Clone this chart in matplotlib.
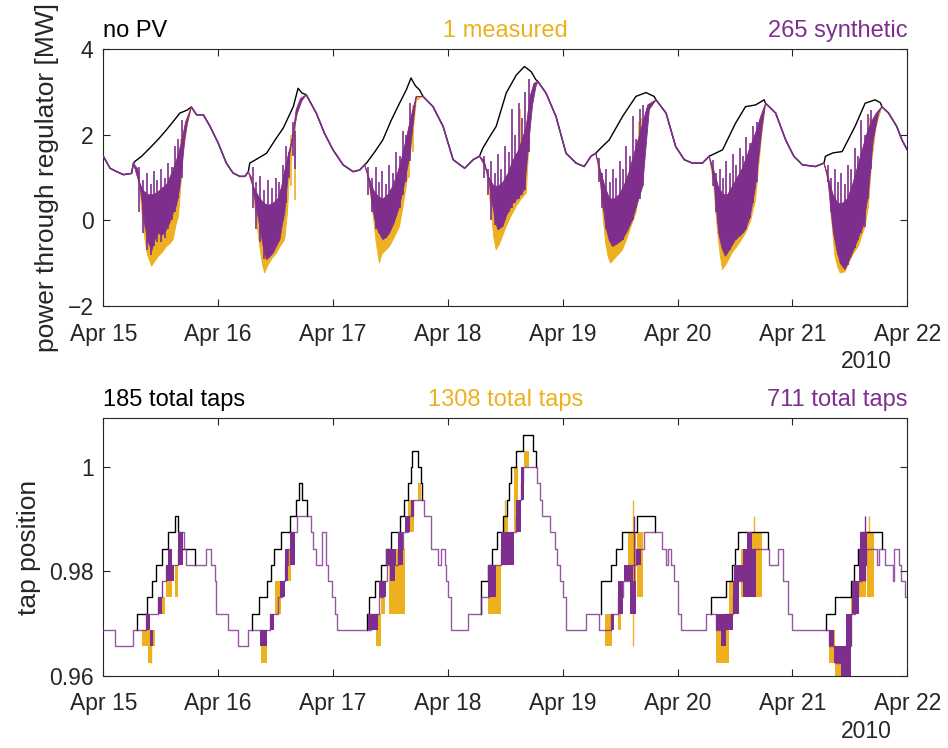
import numpy as np
import matplotlib
matplotlib.use("Agg")
import matplotlib.pyplot as plt

plt.rcParams['font.family'] = ['Liberation Sans', 'DejaVu Sans']

# colours
C_NOPV = '#000000'
C_MEAS = '#EDB120'
C_SYN = '#7E2F8E'

# ---------------- power through the regulator (MW), hours after Apr 15 00:00 ----------------
load_h = [0, 1.4, 2.8, 4.2, 5.9, 6.3, 6.6, 8, 9.7, 11.5, 13.2, 14.5, 16, 17.5, 18.4,
          19.5, 20.9, 22.3, 24, 25.7, 27.1, 28.5, 29.6, 30.3, 30.6, 32.3, 34.1, 36, 37.6,
          39.7, 40.7, 41.5, 42.4, 44.5, 46.2, 48, 50.1, 52.2, 53.6, 54.6, 55, 56.7, 58.4,
          60.2, 61.9, 63.3, 64.3, 65.2, 66.1, 66.8, 68.9, 71, 73.1, 75.5, 77.3, 78.6, 79.3,
          80.7, 82.1, 84.2, 86.3, 88, 89.4, 90.4, 90.8, 92.5, 94.6, 96.7, 98.8, 100.5, 101.9,
          102.9, 104.2, 105.7, 108.5, 111.3, 113.4, 115.1, 115.5, 117.6, 119.6, 121.4, 123.1,
          125.2, 126.6, 129.4, 132.1, 134.2, 136.3, 138.1, 138.4, 140.5, 142.6, 144.3, 146.1,
          148.8, 150.6, 150.9, 152.5, 154.4, 157.1, 159.2, 161.3, 162.4, 162.7, 164.1, 165.8,
          166.9, 168]
load_mw = [1.50, 1.22, 1.14, 1.07, 1.10, 1.34, 1.38, 1.50, 1.69, 1.90, 2.12, 2.30, 2.51, 2.58, 2.65,
           2.47, 2.47, 2.20, 1.81, 1.34, 1.11, 1.03, 1.03, 1.14, 1.34, 1.45, 1.57, 1.90, 2.16,
           2.66, 3.09, 2.98, 2.94, 2.51, 2.04, 1.65, 1.30, 1.14, 1.18, 1.30, 1.34, 1.60, 1.88,
           2.35, 2.74, 3.05, 3.33, 3.15, 3.05, 2.90, 2.66, 2.20, 1.42, 1.22, 1.42, 1.50, 1.69,
           1.95, 2.20, 2.98, 3.40, 3.60, 3.48, 3.29, 3.25, 2.98, 2.43, 1.57, 1.34, 1.26, 1.50,
           1.57, 1.72, 1.88, 2.43, 2.90, 2.99, 2.90, 2.82, 2.51, 1.73, 1.42, 1.34,
           1.34, 1.50, 1.65, 2.27, 2.66, 2.70, 2.82, 2.74, 2.51, 1.88, 1.50, 1.30,
           1.26, 1.34, 1.50, 1.58, 1.61, 2.20, 2.74, 2.82, 2.75, 2.66, 2.51, 2.20,
           1.88, 1.65]

# daylight windows where PV pulls the net load down
pv_start = [6.3, 30.3, 54.6, 78.6, 102.9, 126.6, 150.6]
pv_end = [18.4, 42.4, 66.8, 90.8, 115.5, 138.4, 162.7]

# synthetic PV: top of the dense band of net load, per day
syn_hi_h = [[6.3, 7.3, 8.3, 9.3, 10.3, 11.3, 12.3, 13.3, 14.3, 15.3, 16.3, 17.2, 18.4],
            [30.3, 31.3, 32.5, 33.5, 34.5, 35.5, 36.5, 37.3, 38.0, 38.8, 39.7, 40.5, 41.5, 42.4],
            [54.6, 55.5, 56.5, 57.5, 58.5, 59.5, 60.5, 61.5, 62.5, 63.5, 64.5, 65.4, 66.8],
            [78.6, 79.6, 80.6, 81.6, 82.6, 83.6, 84.6, 85.6, 86.6, 87.6, 88.4, 89.2, 90.0, 90.8],
            [102.9, 103.8, 104.8, 105.8, 106.8, 107.8, 108.8, 109.8, 110.8, 111.8, 112.8, 113.8, 115.5],
            [126.6, 127.5, 128.5, 129.5, 130.5, 131.5, 132.5, 133.5, 134.5, 135.5, 136.5, 137.3, 138.4],
            [150.6, 151.5, 152.5, 153.5, 154.5, 155.5, 156.5, 157.5, 158.5, 159.5, 160.5, 161.5, 162.7]]
syn_hi_mw = [[1.34, 0.95, 0.70, 0.60, 0.60, 0.65, 0.75, 0.85, 1.10, 1.40, 1.80, 2.30, 2.65],
             [1.14, 0.80, 0.55, 0.40, 0.35, 0.40, 0.50, 0.80, 1.20, 1.60, 2.00, 2.50, 2.80, 2.94],
             [1.30, 1.00, 0.70, 0.55, 0.50, 0.60, 0.80, 1.10, 1.50, 2.00, 2.50, 2.90, 2.90],
             [1.50, 1.30, 1.00, 0.80, 0.80, 0.90, 1.10, 1.40, 1.60, 1.90, 2.20, 2.90, 3.20, 3.25],
             [1.57, 1.20, 0.80, 0.50, 0.50, 0.60, 0.80, 1.10, 1.50, 1.90, 2.30, 2.70, 2.82],
             [1.50, 1.20, 0.80, 0.60, 0.60, 0.80, 1.00, 1.20, 1.50, 1.80, 2.10, 2.40, 2.74],
             [1.34, 1.00, 0.60, 0.40, 0.40, 0.50, 0.80, 1.20, 1.60, 2.00, 2.30, 2.50, 2.66]]
syn_lo_h = [[6.3, 7.2, 7.7, 8.7, 9.4, 10.1, 10.8, 11.5, 12.3, 13.2, 13.9, 14.6, 15.3, 16.0, 16.5, 17.0, 17.6, 18.4],
            [30.3, 31.0, 31.7, 32.7, 33.4, 34.1, 34.8, 35.5, 36.2, 36.9, 37.4, 37.9, 38.5, 39.0, 39.6, 40.3, 41.2, 42.4],
            [54.6, 55.2, 55.7, 56.3, 57.0, 57.7, 58.4, 59.1, 59.8, 60.8, 61.9, 63.0, 64.0, 64.7, 65.4, 66.8],
            [78.6, 79.6, 80.5, 81.4, 82.0, 82.5, 83.5, 84.2, 84.9, 85.6, 86.3, 87.2, 88.0, 88.5, 89.1, 89.7, 90.4, 90.8],
            [102.9, 103.5, 104.0, 104.5, 105.0, 105.7, 106.4, 107.4, 108.5, 109.5, 110.6, 111.6, 112.7, 113.4, 114.1, 115.5],
            [126.6, 127.2, 127.6, 128.1, 128.6, 129.3, 130.0, 130.8, 132.1, 133.2, 134.2, 135.2, 136.3, 137.0, 137.7, 138.4],
            [150.6, 151.2, 151.6, 152.1, 152.6, 153.3, 154.0, 155.0, 156.0, 157.1, 158.0, 158.8, 159.9, 160.9, 162.0, 162.7]]
syn_lo_mw = [[1.34, 1.20, 0.79, -0.14, -0.50, -0.72, -0.45, -0.30, -0.35, -0.22, -0.05, 0.17, 0.35, 0.79, 1.30, 1.88, 2.30, 2.65],
             [1.14, 1.00, 0.48, -0.14, -0.60, -0.92, -0.85, -0.76, -0.60, -0.45, -0.10, 0.17, 0.90, 1.57, 2.00, 2.59, 2.85, 2.94],
             [1.30, 1.10, 0.79, 0.30, -0.14, -0.30, -0.45, -0.40, -0.30, -0.05, 0.33, 0.90, 1.50, 2.20, 2.90, 2.90],
             [1.50, 1.40, 1.00, 0.33, -0.05, -0.22, -0.14, 0.10, 0.25, 0.40, 0.48, 0.60, 0.72, 1.30, 2.04, 2.70, 3.13, 3.25],
             [1.57, 1.30, 0.79, 0.30, -0.14, -0.45, -0.61, -0.55, -0.45, -0.25, 0.02, 0.40, 0.79, 1.70, 2.59, 2.82],
             [1.50, 1.20, 0.95, 0.30, -0.30, -0.65, -0.84, -0.70, -0.45, -0.35, -0.22, 0.10, 0.79, 1.50, 2.20, 2.74],
             [1.34, 1.10, 0.79, 0.20, -0.30, -0.70, -1.00, -1.15, -0.90, -0.61, -0.35, -0.14, 0.64, 1.88, 2.50, 2.66]]

# short cloud gaps: synthetic net-load swings above the dense band
syn_spike_h = [7.4, 8.3, 9.1, 9.9, 10.6, 11.3, 12.0, 12.8, 13.6, 14.3, 15.0, 15.7, 16.4,
               31.2, 32.0, 32.8, 33.6, 34.4, 35.2, 36.0, 36.8, 37.5, 38.2, 38.9, 39.6, 40.0,
               55.4, 56.1, 56.9, 57.6, 58.3, 59.0, 59.8, 60.5, 61.2, 61.9, 62.6, 63.3, 64.0,
               79.5, 80.3, 81.0, 81.8, 82.5, 83.2, 84.0, 84.7, 85.4, 86.1, 86.8, 87.5, 88.2, 88.9,
               103.6, 104.3, 105.0, 105.8, 106.5, 107.2, 107.9, 108.6, 109.3, 110.0, 110.7, 111.4, 112.1, 112.8,
               127.4, 128.1, 128.8, 129.5, 130.2, 130.9, 131.6, 132.3, 133.0, 133.7, 134.4, 135.1, 135.8, 136.5,
               151.4, 152.1, 152.8, 153.5, 154.2, 154.9, 155.6, 156.3, 157.0, 157.7, 158.4, 159.1, 159.8, 160.5]
syn_spike_lo = [0.2, -0.3, -0.7, -0.8, -0.6, -0.5, -0.5, -0.4, -0.2, 0.0, 0.2, 0.5, 1.0,
                0.3, -0.2, -0.5, -0.9, -0.8, -0.7, -0.6, -0.4, 0.0, 0.4, 1.0, 1.5, 1.2,
                0.6, 0.2, -0.2, -0.3, -0.4, -0.4, -0.3, -0.1, 0.1, 0.3, 0.6, 0.9, 1.4,
                1.0, 0.6, 0.0, -0.1, -0.2, -0.1, 0.0, 0.2, 0.3, 0.4, 0.5, 0.6, 0.7, 1.6,
                0.9, 0.3, -0.2, -0.5, -0.6, -0.55, -0.5, -0.45, -0.3, -0.1, 0.0, 0.3, 0.5, 0.8,
                0.8, 0.2, -0.4, -0.7, -0.8, -0.7, -0.55, -0.45, -0.35, -0.3, -0.2, 0.05, 0.4, 0.9,
                0.9, 0.2, -0.4, -0.8, -1.0, -1.1, -1.05, -0.85, -0.65, -0.45, -0.3, -0.15, 0.5, 1.2]
syn_spike_hi = [1.25, 0.95, 1.10, 0.85, 1.15, 0.95, 1.20, 1.00, 1.35, 1.25, 1.75, 1.90, 2.35,
                1.26, 0.90, 1.05, 0.70, 0.95, 0.75, 1.00, 0.90, 1.30, 1.75, 1.60, 2.30, 2.10,
                1.25, 1.00, 1.25, 0.90, 1.15, 0.85, 1.30, 1.10, 1.60, 1.50, 2.10, 2.00, 2.75,
                1.50, 1.20, 1.40, 1.10, 1.55, 1.20, 1.75, 1.60, 2.60, 2.00, 2.75, 2.40, 3.00, 3.30,
                1.45, 1.10, 1.20, 0.90, 1.20, 1.00, 1.40, 1.20, 1.75, 1.50, 2.45, 1.90, 2.60, 2.70,
                1.42, 1.10, 1.20, 1.00, 1.40, 1.10, 1.55, 1.30, 1.70, 1.50, 1.95, 1.80, 2.20, 2.30,
                1.30, 1.00, 1.20, 0.90, 1.10, 0.85, 1.30, 1.20, 1.70, 1.50, 2.35, 2.00, 2.50, 2.59]

# measured PV: lower envelope of the net load, per day
meas_lo_h = [[6.3, 7.5, 8.4, 9.2, 10.1, 10.8, 11.5, 12.3, 13.2, 13.9, 14.6, 15.2, 15.7, 16.2, 16.7, 17.5, 18.4],
             [30.3, 31.2, 32.0, 32.7, 33.2, 33.7, 34.4, 35.2, 36.2, 37.0, 37.9, 38.5, 39.0, 39.7, 40.3, 41.2, 42.4],
             [54.6, 55.5, 56.3, 57.0, 57.7, 58.2, 59.0, 59.8, 60.8, 61.9, 62.6, 63.3, 64.0, 64.7, 65.4, 66.8],
             [78.6, 80.0, 81.0, 81.6, 82.1, 82.8, 83.5, 84.2, 85.2, 86.3, 87.3, 88.4, 88.8, 89.4, 90.0, 90.8],
             [102.9, 103.8, 104.5, 105.0, 105.5, 106.0, 106.8, 107.6, 108.5, 109.5, 110.4, 111.3, 112.0, 112.7, 113.4, 114.1, 115.5],
             [126.6, 127.5, 128.3, 128.9, 129.4, 130.3, 131.4, 132.8, 134.2, 135.3, 136.3, 136.9, 137.6, 138.4],
             [150.6, 151.5, 152.2, 152.9, 153.5, 154.0, 155.0, 156.4, 157.8, 159.2, 159.9, 160.6, 161.5, 162.7]]
meas_lo_mw = [[1.34, 0.90, -0.22, -0.80, -1.07, -0.95, -0.84, -0.75, -0.61, -0.55, -0.45, -0.10, 0.09, 0.80, 1.57, 2.20, 2.65],
              [1.14, 0.80, 0.00, -0.61, -1.00, -1.23, -1.05, -0.90, -0.76, -0.60, -0.45, 0.20, 1.30, 1.90, 2.40, 2.80, 2.94],
              [1.30, 0.90, 0.20, -0.50, -1.00, -0.80, -0.70, -0.61, -0.40, -0.14, 0.30, 0.79, 1.40, 2.00, 2.80, 2.90],
              [1.50, 1.20, 0.30, -0.40, -0.69, -0.55, -0.35, -0.14, 0.10, 0.33, 0.50, 0.64, 1.50, 2.50, 3.00, 3.25],
              [1.57, 1.00, 0.00, -0.55, -0.85, -1.00, -0.90, -0.80, -0.69, -0.40, -0.10, 0.17, 0.60, 1.10, 2.00, 2.60, 2.82],
              [1.50, 0.90, -0.20, -0.80, -1.15, -1.00, -0.76, -0.55, -0.30, 0.00, 0.48, 1.20, 2.00, 2.74],
              [1.34, 0.90, 0.00, -0.84, -1.10, -1.23, -1.20, -0.84, -0.60, -0.14, 0.33, 1.40, 2.20, 2.66]]

# measured swings that stick out of the synthetic band
meas_spike_h = [40.0, 16.3, 88.9, 39.3, 63.8, 87.0, 111.9, 112.3, 136.6, 160.3, 15.5, 64.8]
meas_spike_lo = [0.48, 1.00, 1.60, 0.80, 1.00, 0.70, 0.60, 1.00, 1.00, 1.00, 0.40, 1.60]
meas_spike_hi = [2.30, 1.90, 2.60, 2.00, 2.20, 2.60, 2.30, 2.40, 2.10, 2.40, 1.50, 2.70]

# ---------------- regulator tap position ----------------
TAP_STEP = 0.003125  # per-unit change per tap

syn_tap_h = [0, 2.4, 6.1, 9.0, 11.5, 12.2, 13.2, 15.7, 16.3, 16.8, 17.2, 21.4, 22.4, 23.3, 23.6, 26.1, 28.2, 30.3,
             34.8, 36.5, 37.3, 37.9, 38.6, 39.3, 40.5, 43.3, 43.8, 44.5, 45.7, 46.6, 47.0, 47.7, 48.5, 48.9,
             56.0, 57.7, 58.5, 59.3, 61.5, 62.6, 63.7, 64.8, 67.1, 68.5, 70.0, 70.5, 71.3, 71.6, 72.0, 72.7, 76.3,
             79.0, 80.5, 81.5, 83.2, 85.0, 86.2, 86.8, 87.3, 87.8, 90.6, 91.2, 91.7, 93.3, 94.3, 94.9, 95.4, 96.0, 96.7, 100.9,
             103.5, 106.0, 107.5, 108.5, 110.0, 111.3, 113.0, 116.7, 117.5, 118.0, 118.7, 119.3, 120.0, 120.7, 125.9,
             128.0, 130.0, 131.5, 132.3, 133.5, 135.0, 139.1, 140.9, 142.1, 143.0, 144.0,
             151.6, 153.0, 155.0, 156.2, 157.0, 157.8, 158.5, 159.3, 161.7, 162.1, 163.3, 165.0, 165.3, 166.3, 166.8, 167.5, 168]
syn_tap_n = [-10, -11, -10, -9, -8, -7, -6, -5, -4, -5, -6, -5, -6, -7, -9, -10, -11, -10,
             -9, -8, -7, -6, -5, -4, -3, -4, -5, -6, -4, -6, -7, -8, -9, -10,
             -9, -8, -7, -6, -5, -4, -3, -2, -3, -5, -6, -5, -6, -7, -8, -10, -9,
             -8, -7, -6, -5, -4, -3, -2, -1, 0, -1, -2, -3, -4, -5, -6, -7, -8, -10, -9,
             -10, -9, -8, -7, -6, -5, -4, -5, -6, -5, -6, -7, -9, -10, -9,
             -10, -9, -8, -7, -6, -5, -6, -5, -7, -9, -10,
             -11, -12, -11, -9, -8, -7, -6, -5, -6, -5, -6, -7, -5, -6, -7, -8, -8]

# without PV the regulator climbs higher during the day
nopv_tap_h = [[7.0, 7.0, 9.05, 10.1, 11.1, 12.2, 13.6, 15.0, 15.5, 16.0, 19.1],
              [31.0, 31.0, 32.5, 34.1, 35.0, 35.6, 37.2, 39.0, 40.3, 40.8, 41.5, 42.6],
              [55.0, 55.0, 55.5, 56.8, 58.1, 59.1, 60.2, 61.9, 62.9, 63.7, 64.3, 64.5, 65.7, 66.3, 66.6],
              [79.0, 79.0, 80.3, 81.2, 82.3, 83.5, 84.3, 84.8, 85.2, 86.2, 87.6, 89.7, 90.4],
              [104.0, 104.0, 106.0, 107.1, 108.3, 111.5, 115.3],
              [126.9, 126.9, 130.2, 131.3, 132.0, 132.6, 138.8],
              [151.0, 151.0, 153.0, 156.2, 156.9, 157.8, 158.3, 162.8]]
nopv_tap_n = [[-10, -9, -8, -7, -6, -5, -4, -3, -4, -5, -6],
              [-10, -9, -8, -7, -6, -5, -4, -3, -2, -1, -2, -3],
              [-10, -9, -8, -7, -6, -5, -4, -3, -2, -1, 0, 1, 0, -1, -2],
              [-9, -7, -6, -5, -4, -3, -2, -1, 0, 1, 2, 1, 0],
              [-9, -7, -6, -5, -4, -3, -4],
              [-9, -8, -7, -6, -5, -4, -5],
              [-10, -9, -8, -7, -6, -5, -4, -5]]

# periods of rapid back-and-forth tapping: start, end, lowest and highest tap
syn_blk_h0 = [9.0, 9.7, 11.5, 12.2, 13.2, 13.6, 15.7,
              32.7, 34.8, 36.9, 37.9, 39.0,
              55.3, 57.7, 59.1, 60.0, 61.6, 63.0, 64.4,
              80.3, 83.1, 86.3, 87.3,
              106.0, 107.5, 108.8, 110.0, 111.3,
              128.0, 129.0, 130.1, 131.5, 131.8, 133.6, 134.5,
              151.6, 152.7, 154.1, 155.1, 156.5, 157.9, 158.2]
syn_blk_h1 = [9.7, 10.4, 12.2, 12.5, 14.8, 14.3, 16.7,
              34.1, 35.6, 37.9, 38.6, 40.0,
              57.4, 59.1, 61.2, 61.0, 62.6, 64.0, 65.0,
              82.1, 85.9, 87.3, 88.0,
              106.8, 108.5, 110.6, 111.3, 112.3,
              130.1, 130.1, 131.5, 132.9, 133.6, 136.3, 135.5,
              152.7, 154.1, 156.2, 156.5, 157.9, 159.3, 159.6]
syn_blk_lo = [-10, -11, -9, -8, -7, -6, -6,
              -11, -10, -8, -7, -6,
              -10, -8, -6, -7, -6, -4, -3,
              -8, -6, -4, -2,
              -10, -9, -7, -9, -6,
              -10, -11, -10, -9, -7, -8, -5,
              -11, -12, -13, -11, -9, -7, -6]
syn_blk_hi = [-9, -10, -8, -7, -6, -5, -4,
              -10, -9, -7, -5, -4,
              -9, -7, -5, -6, -4, -3, -2,
              -6, -4, -2, 0,
              -9, -7, -6, -7, -5,
              -9, -10, -9, -7, -6, -5, -4,
              -10, -11, -11, -9, -7, -5, -4]

meas_blk_h0 = [8.0, 9.4, 12.2, 13.2, 15.0, 16.0,
               33.0, 35.8, 38.3,
               56.9, 58.1, 59.8, 63.7, 65.7,
               80.3, 83.5, 85.9, 88.0,
               104.9, 107.5, 109.6, 111.6,
               128.0, 130.8, 133.3, 135.6,
               151.6, 153.0, 155.1, 156.2, 157.9, 159.6]
meas_blk_h1 = [10.8, 10.1, 12.9, 14.3, 15.7, 16.4,
               34.1, 37.2, 39.3,
               58.1, 58.8, 63.0, 65.0, 66.4,
               83.1, 84.5, 86.6, 89.0,
               106.4, 108.2, 111.3, 112.7,
               130.8, 132.9, 135.0, 137.7,
               153.0, 154.4, 156.2, 157.2, 159.3, 161.0]
meas_blk_lo = [-11, -12, -9, -8, -8, -6,
               -12, -9, -7,
               -11, -9, -9, -4, -2,
               -9, -6, -4, 0,
               -11, -10, -7, -8,
               -12, -9, -8, -8,
               -12, -13, -13, -9, -8, -8]
meas_blk_hi = [-10, -11, -8, -6, -6, -4,
               -10, -7, -5,
               -9, -7, -5, -2, -1,
               -6, -3, 0, 1,
               -9, -7, -4, -4,
               -9, -7, -5, -4,
               -10, -11, -10, -7, -5, -4]

# single tap excursions
meas_tap_spike_h = [10.0, 57.5, 110.7, 136.0, 160.0, 84.0]
meas_tap_spike_lo = [-12, -11, -11, -8, -8, -6]
meas_tap_spike_hi = [-10, -9, -2, -3, -3, -2]
syn_tap_spike_h = [159.2, 110.9]
syn_tap_spike_lo = [-7, -7]
syn_tap_spike_hi = [-3, -3]

title_top = ['no PV', '1 measured', '265 synthetic']
title_bot = ['185 total taps', '1308 total taps', '711 total taps']
day_ticks = [0, 24, 48, 72, 96, 120, 144, 168]
day_labels = ['Apr 15', 'Apr 16', 'Apr 17', 'Apr 18', 'Apr 19', 'Apr 20', 'Apr 21', 'Apr 22']


def tap_value(n):
    return 1 + TAP_STEP * np.asarray(n, dtype=float)


fig = plt.figure(figsize=(9.48, 7.48), dpi=100)
ax1 = fig.add_axes([0.109, 0.591, 0.848, 0.343])
ax2 = fig.add_axes([0.109, 0.0967, 0.848, 0.344])

# --- top panel ---
lh = np.array(load_h)
lmw = np.array(load_mw)
ax1.plot(lh, lmw, color=C_NOPV, lw=1.0, zorder=1)

for i in range(len(pv_start)):
    px = meas_lo_h[i] + syn_hi_h[i][::-1]
    py = meas_lo_mw[i] + syn_hi_mw[i][::-1]
    ax1.fill(px, py, color=C_MEAS, lw=0.6, zorder=2)
    px = syn_lo_h[i] + syn_hi_h[i][::-1]
    py = syn_lo_mw[i] + syn_hi_mw[i][::-1]
    ax1.fill(px, py, color=C_SYN, lw=0.6, zorder=3)
ax1.vlines(meas_spike_h, meas_spike_lo, meas_spike_hi, color=C_MEAS, lw=1.2, zorder=2)
ax1.vlines(syn_spike_h, syn_spike_lo, syn_spike_hi, color=C_SYN, lw=1.2, zorder=3)

night = np.ones(len(lh), dtype=bool)
for s, e in zip(pv_start, pv_end):
    night &= ~((lh > s) & (lh < e))
ax1.plot(lh, np.where(night, lmw, np.nan), color=C_SYN, lw=1.1, zorder=4)

ax1.set_ylim(-2, 4)
ax1.set_yticks([-2, 0, 2, 4])
ax1.set_ylabel('power through regulator [MW]', fontsize=19, color='#262626', labelpad=6)

# --- bottom panel ---
ax2.bar(meas_blk_h0, tap_value(meas_blk_hi) - tap_value(meas_blk_lo),
        width=np.array(meas_blk_h1) - np.array(meas_blk_h0), bottom=tap_value(meas_blk_lo),
        align='edge', color=C_MEAS, lw=0, zorder=1)
ax2.vlines(meas_tap_spike_h, tap_value(meas_tap_spike_lo), tap_value(meas_tap_spike_hi),
           color=C_MEAS, lw=1.0, zorder=1)
for hh, nn in zip(nopv_tap_h, nopv_tap_n):
    ax2.step(hh, tap_value(nn), where='post', color=C_NOPV, lw=1.0, zorder=2)
ax2.step(syn_tap_h, tap_value(syn_tap_n), where='post', color=C_SYN, lw=1.0, alpha=0.8, zorder=3)
ax2.bar(syn_blk_h0, tap_value(syn_blk_hi) - tap_value(syn_blk_lo),
        width=np.array(syn_blk_h1) - np.array(syn_blk_h0), bottom=tap_value(syn_blk_lo),
        align='edge', color=C_SYN, lw=0, zorder=4)
ax2.vlines(syn_tap_spike_h, tap_value(syn_tap_spike_lo), tap_value(syn_tap_spike_hi),
           color=C_SYN, lw=1.0, zorder=4)

ax2.set_ylim(0.96, 1.009375)
ax2.set_yticks([0.96, 0.98, 1.0])
ax2.set_yticklabels(['0.96', '0.98', '1'])
ax2.set_ylabel('tap position', fontsize=19, color='#262626', labelpad=6)

for ax, titles in ((ax1, title_top), (ax2, title_bot)):
    ax.set_xlim(0, 168)
    ax.set_xticks(day_ticks)
    ax.set_xticklabels(day_labels)
    ax.tick_params(direction='in', length=5, width=0.8, top=True, right=True,
                   labelsize=16.5, colors='#262626')
    ax.tick_params(axis='x', pad=12)
    ax.tick_params(axis='y', pad=7)
    for sp in ax.spines.values():
        sp.set_color('#262626')
        sp.set_linewidth(0.8)
    ax.set_title(titles[0], loc='left', fontsize=17, color=C_NOPV, pad=9)
    ax.set_title(titles[1], loc='center', fontsize=17, color=C_MEAS, pad=9)
    ax.set_title(titles[2], loc='right', fontsize=17, color=C_SYN, pad=9)
    ax.text(0.949, -0.218, '2010', transform=ax.transAxes, ha='center', va='center',
            fontsize=16.5, color='#262626')

fig.savefig('out.png', dpi=100)
